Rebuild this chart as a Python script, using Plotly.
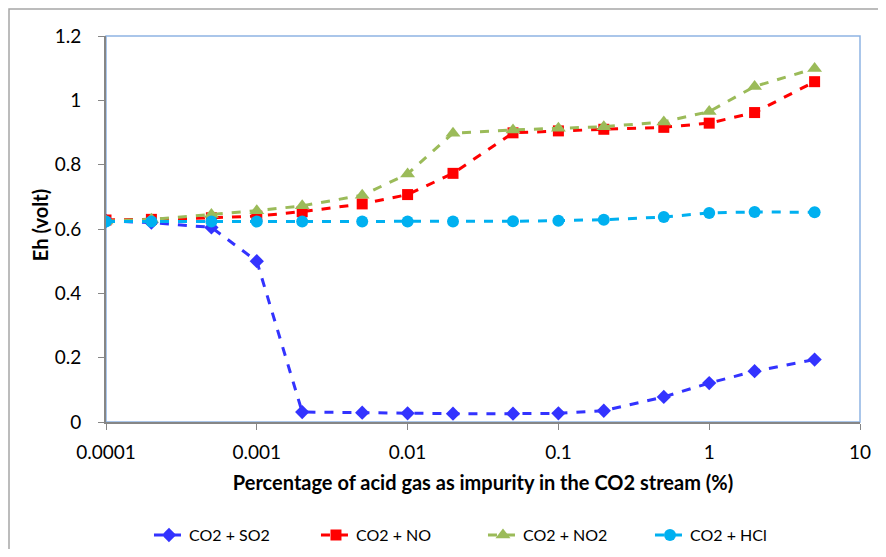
import plotly.graph_objects as go

# acid gas percentage in CO2 stream (%)
pct = [0.0001, 0.0002, 0.0005, 0.001, 0.002, 0.005, 0.01, 0.02,
       0.05, 0.1, 0.2, 0.5, 1, 2, 5]

# Eh (volt) per impurity
eh_so2 = [0.625, 0.620, 0.605, 0.500, 0.031, 0.029, 0.027, 0.026,
          0.026, 0.027, 0.035, 0.078, 0.121, 0.158, 0.194]
eh_no = [0.628, 0.630, 0.635, 0.640, 0.654, 0.678, 0.707, 0.773,
         0.899, 0.905, 0.910, 0.916, 0.929, 0.962, 1.058]
eh_no2 = [0.625, 0.630, 0.645, 0.657, 0.672, 0.705, 0.771, 0.898,
          0.908, 0.913, 0.918, 0.933, 0.965, 1.043, 1.099]
eh_hcl = [0.623, 0.623, 0.623, 0.623, 0.623, 0.623, 0.623, 0.623,
          0.624, 0.626, 0.629, 0.637, 0.650, 0.653, 0.652]

x_ticks = [0.0001, 0.001, 0.01, 0.1, 1, 10]
x_tick_text = ["0.0001", "0.001", "0.01", "0.1", "1", "10"]

series = [
    ("CO2 + SO2", eh_so2, "#3333FF", "diamond", 11),
    ("CO2 + NO", eh_no, "#FF0000", "square", 11),
    ("CO2 + NO2", eh_no2, "#9BBB59", "triangle-up", 13),
    ("CO2 + HCl", eh_hcl, "#00B0F0", "circle", 12),
]

fig = go.Figure()
for name, vals, col, sym, size in series:
    fig.add_trace(go.Scatter(
        x=pct, y=vals, name=name, mode="lines+markers",
        line=dict(color=col, width=3, dash="dash"),
        marker=dict(symbol=sym, size=size, color=col),
    ))

# page body keeps its 8px margin, so the figure must fit inside the window with it
W, H = 870, 541
L, R, T, B = 98, 18, 28, 127
pw = W - L - R
ph = H - T - B

font = "Lato, 'Open Sans', sans-serif"
fig.update_layout(
    width=W, height=H,
    # no autoexpand: the legend below the plot would otherwise squeeze the plot area
    margin=dict(l=L, r=R, t=T, b=B, autoexpand=False),
    paper_bgcolor="white", plot_bgcolor="white",
    font=dict(family=font, size=19, color="black"),
    showlegend=True,
    legend=dict(orientation="h", x=0.057, xanchor="left", y=-0.293, yanchor="middle",
                entrywidth=122, entrywidthmode="pixels", font=dict(size=16),
                bgcolor="rgba(0,0,0,0)"),
    shapes=[
        dict(type="rect", xref="x domain", yref="y domain", x0=0, x1=1, y0=0, y1=1,
             line=dict(color="#8EB4E3", width=1.5), layer="below"),
        dict(type="rect", xref="paper", yref="paper",
             x0=(1 - L) / pw, x1=1.2, y0=-0.5, y1=(ph + T - 1) / ph,
             line=dict(color="#A6A6A6", width=1.5), layer="below"),
    ],
    annotations=[
        dict(text="<b>Eh (volt)</b>", xref="paper", yref="paper",
             x=-66 / pw, y=0.51, xanchor="center", yanchor="middle",
             textangle=-90, showarrow=False, font=dict(size=20)),
    ],
)
fig.update_xaxes(
    type="log", range=[-4, 1], tickvals=x_ticks, ticktext=x_tick_text,
    showgrid=False, zeroline=False, showline=True, linecolor="#868686", linewidth=2,
    ticks="outside", ticklen=6, tickcolor="#868686", ticklabelstandoff=6,
    automargin=False,
    title=dict(text="<b>Percentage of acid gas as impurity in the CO2 stream (%)</b>",
               font=dict(size=20), standoff=14),
)
fig.update_yaxes(
    range=[0, 1.2], dtick=0.2, tickformat="~g",
    showgrid=False, zeroline=False, showline=True, linecolor="#868686", linewidth=2,
    ticks="outside", ticklen=6, tickcolor="#868686", ticklabelstandoff=13,
    automargin=False,
)

fig.write_html("out.html")
